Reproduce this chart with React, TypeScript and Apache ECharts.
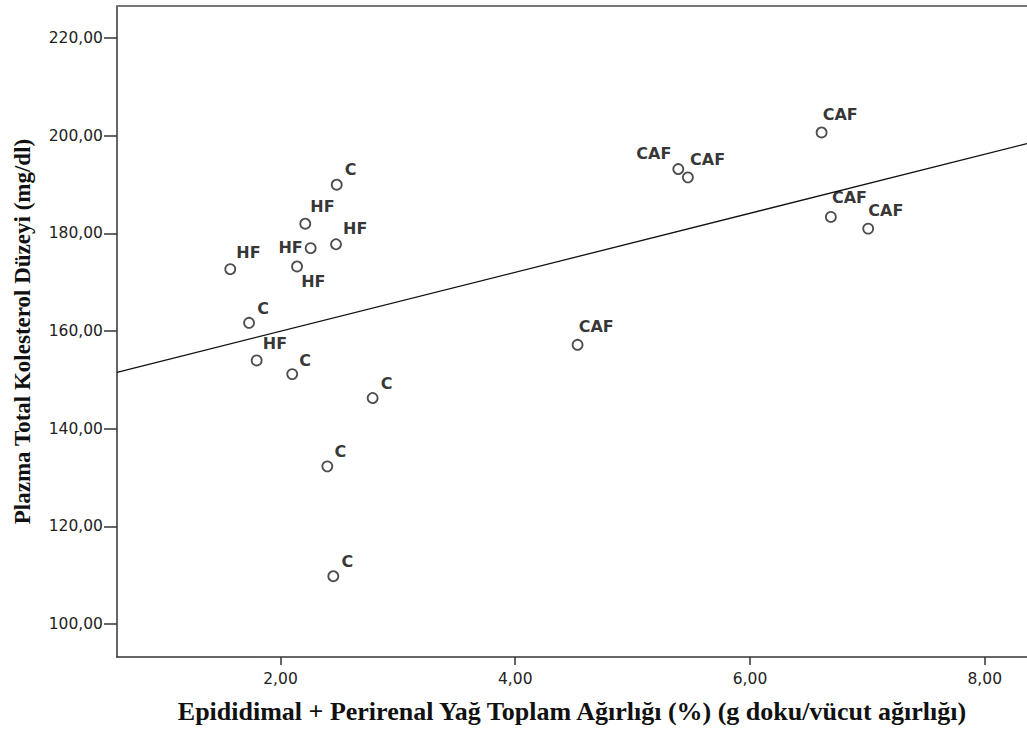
import React, { useEffect, useRef } from "react";
import * as echarts from "echarts";

// Data
const groups = [
  "HF", "HF", "HF", "HF", "HF", "HF",
  "C", "C", "C", "C", "C", "C",
  "CAF", "CAF", "CAF", "CAF", "CAF", "CAF",
];
const xValues = [
  1.572, 2.211, 2.473, 2.257, 2.141, 1.797,
  2.479, 1.732, 2.10, 2.785, 2.399, 2.45,
  6.61, 5.389, 5.471, 6.689, 7.007, 4.531,
];
const yValues = [
  172.7, 182.0, 177.8, 177.0, 173.25, 154.0,
  190.0, 161.7, 151.2, 146.3, 132.3, 109.8,
  200.7, 193.2, 191.5, 183.4, 181.0, 157.2,
];
// Fit line end points
const fitX = [0.607, 8.36];
const fitY = [151.55, 198.4];

const xTicks = [2, 4, 6, 8];
const yTicks = [100, 120, 140, 160, 180, 200, 220];

const xTitle = "Epididimal + Perirenal Yağ Toplam Ağırlığı (%) (g doku/vücut ağırlığı)";
const yTitle = "Plazma Total Kolesterol Düzeyi (mg/dl)";

// Label placement (style only): [dx, dy, align]
const labelPlacement: [number, number, string][] = [
  [7, -16, "left"], [6, -16, "left"], [8, -15, "left"], [-7, 0, "right"], [5, 16, "left"], [7, -16, "left"],
  [9, -14, "left"], [9, -13, "left"], [8, -13, "left"], [9, -14, "left"], [8, -14, "left"], [9, -14, "left"],
  [2, -17, "left"], [-6, -15, "right"], [3, -17, "left"], [2, -18, "left"], [1, -17, "left"], [2, -17, "left"],
];

const fmt = (v: number) => v.toFixed(2).replace(".", ",");

export default function App() {
  const ref = useRef<HTMLDivElement>(null);
  useEffect(() => {
    if (!ref.current) return;
    const chart = echarts.init(ref.current, undefined, { renderer: "svg" });
    const sym = 10;
    const points = xValues.map((x, i) => ({
      value: [x, yValues[i]],
      name: groups[i],
      label: {
        position: [sym / 2 + labelPlacement[i][0], sym / 2 + labelPlacement[i][1]],
        align: labelPlacement[i][2],
        verticalAlign: "middle",
      },
    }));
    chart.setOption({
      animation: false,
      backgroundColor: "#ffffff",
      grid: { left: 117, right: 0, top: 6, bottom: 74, containLabel: false, outerBoundsMode: "none" },
      xAxis: [
        {
          type: "value",
          min: 0.607,
          max: 8.36,
          splitLine: { show: false },
          axisLine: { show: true, onZero: false, lineStyle: { color: "#333", width: 1.5 } },
          axisTick: { show: true, length: 8, customValues: xTicks, lineStyle: { color: "#333", width: 1.5 } },
          axisLabel: {
            customValues: xTicks,
            formatter: fmt,
            fontFamily: "DejaVu Sans",
            fontSize: 15.5,
            color: "#222",
            margin: 14,
          },
          name: xTitle,
          nameLocation: "middle",
          nameGap: 41,
          nameTextStyle: {
            fontFamily: "Liberation Serif",
            fontWeight: "bold",
            fontSize: 26,
            color: "#111",
          },
        },
        {
          type: "value",
          position: "top",
          min: 0.607,
          max: 8.36,
          splitLine: { show: false },
          axisLine: { show: true, onZero: false, lineStyle: { color: "#777", width: 2 } },
          axisTick: { show: false },
          axisLabel: { show: false },
        },
      ],
      yAxis: {
        type: "value",
        min: 93.25,
        max: 226.6,
        splitLine: { show: false },
        axisLine: { show: true, onZero: false, lineStyle: { color: "#333", width: 1.5 } },
        axisTick: { show: true, length: 13, customValues: yTicks, lineStyle: { color: "#333", width: 1.5 } },
        axisLabel: {
          customValues: yTicks,
          formatter: fmt,
          fontFamily: "DejaVu Sans",
          fontSize: 15.5,
          color: "#222",
          margin: 14,
        },
        name: yTitle,
        nameLocation: "middle",
        nameGap: 83,
        nameTextStyle: {
          fontFamily: "Liberation Serif",
          fontWeight: "bold",
          fontSize: 23,
          color: "#111",
        },
      },
      series: [
        {
          type: "line",
          data: fitX.map((x, i) => [x, fitY[i]]),
          showSymbol: false,
          symbol: "none",
          lineStyle: { color: "#111", width: 1.3 },
          silent: true,
          z: 1,
        },
        {
          type: "scatter",
          data: points,
          symbol: "circle",
          symbolSize: sym,
          itemStyle: { color: "#ffffff", borderColor: "#222", borderWidth: 1.8 },
          label: {
            show: true,
            formatter: "{b}",
            fontFamily: "DejaVu Sans",
            fontWeight: "bold",
            fontSize: 16,
            color: "#000",
          },
          z: 2,
        },
      ],
    });
    return () => chart.dispose();
  }, []);
  return (
    <div
      ref={ref}
      style={{ position: "absolute", left: 0, top: 0, width: 1027, height: 731 }}
    />
  );
}
